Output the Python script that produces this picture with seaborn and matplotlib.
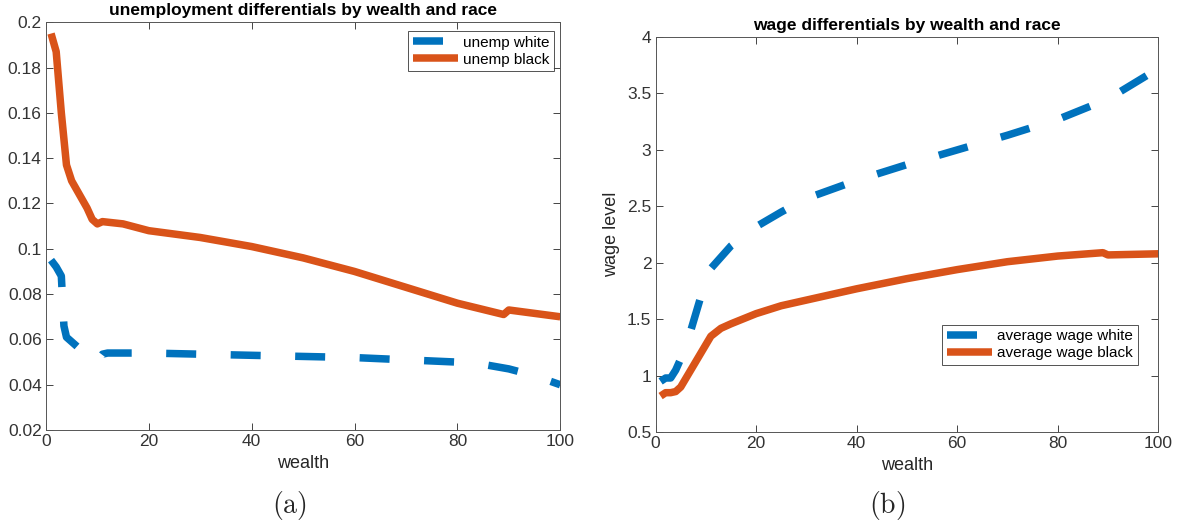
import matplotlib
matplotlib.use("Agg")
import matplotlib.pyplot as plt
import matplotlib.ticker as mticker
import seaborn as sns
import pandas as pd

# wealth grid points and model outputs
wealth_u_black = [1, 2, 3, 4, 5, 6, 7, 8, 9, 10, 11, 15, 20, 30, 40, 50, 60, 70, 80, 89, 90, 100]
unemp_black = [0.195, 0.187, 0.160, 0.137, 0.130, 0.126, 0.122, 0.118, 0.113, 0.111, 0.112, 0.111,
               0.108, 0.105, 0.101, 0.096, 0.090, 0.083, 0.076, 0.071, 0.073, 0.070]

wealth_u_white = [1, 2, 3, 3.5, 4, 5, 7, 10, 10.5, 11, 12, 20, 40, 60, 80, 85, 90, 95, 100]
unemp_white = [0.095, 0.092, 0.088, 0.066, 0.061, 0.059, 0.055, 0.050, 0.052, 0.0535, 0.054, 0.054,
               0.053, 0.052, 0.050, 0.049, 0.047, 0.044, 0.040]

wealth_w = [1, 2, 3, 4, 5, 7, 8, 9, 10, 11, 13, 15, 20, 25, 30, 40, 50, 60, 70, 80, 90, 100]
wage_white = [0.95, 0.98, 0.98, 1.05, 1.15, 1.40, 1.55, 1.70, 1.85, 1.95, 2.05, 2.15,
              2.32, 2.45, 2.57, 2.73, 2.87, 3.00, 3.13, 3.27, 3.45, 3.72]

wealth_wb = [1, 2, 3, 4, 5, 7, 9, 11, 13, 15, 20, 25, 30, 40, 50, 60, 70, 80, 89, 90, 100]
wage_black = [0.82, 0.85, 0.85, 0.86, 0.90, 1.05, 1.20, 1.35, 1.42, 1.46, 1.55, 1.62,
              1.67, 1.77, 1.86, 1.94, 2.01, 2.06, 2.09, 2.07, 2.08]

x_ticks = [0, 20, 40, 60, 80, 100]
u_ticks = [0.02, 0.04, 0.06, 0.08, 0.1, 0.12, 0.14, 0.16, 0.18, 0.2]
w_ticks = [0.5, 1, 1.5, 2, 2.5, 3, 3.5, 4]

BLUE = "#0072BD"
ORANGE = "#D95319"
INK = "#262626"

sns.set_theme(style="white")
plt.rcParams["font.family"] = ["Liberation Sans", "DejaVu Sans"]
plt.rcParams["mathtext.fontset"] = "cm"

fig = plt.figure(figsize=(11.77, 5.29), dpi=100)
ax1 = fig.add_axes([0.039, 0.187, 0.437, 0.771])
ax2 = fig.add_axes([0.557, 0.183, 0.427, 0.747])

LW = 5.4
DASH = [4, 4.6]


def style_axes(ax, yticks, ylim):
    ax.set_xlim(0, 100)
    ax.set_ylim(*ylim)
    ax.set_xticks(x_ticks)
    ax.set_yticks(yticks)
    ax.yaxis.set_major_formatter(mticker.FormatStrFormatter("%g"))
    ax.tick_params(direction="in", length=5, width=0.6, colors=INK, labelsize=12.5,
                   top=True, right=True, bottom=True, left=True, pad=3)
    for lab in ax.get_xticklabels() + ax.get_yticklabels():
        lab.set_color("#333333")
    for sp in ax.spines.values():
        sp.set_color("#555555")
        sp.set_linewidth(0.7)
    ax.set_xlabel("wealth", fontsize=13, color=INK, labelpad=4)


def style_legend(leg):
    leg.get_frame().set_edgecolor(INK)
    leg.get_frame().set_linewidth(0.7)
    for t in leg.get_texts():
        t.set_color("black")


# panel (a): unemployment
df_uw = pd.DataFrame({"wealth": wealth_u_white, "value": unemp_white})
df_ub = pd.DataFrame({"wealth": wealth_u_black, "value": unemp_black})
sns.lineplot(data=df_uw, x="wealth", y="value", ax=ax1, color=BLUE, lw=LW,
             label="unemp white", solid_capstyle="butt", dash_capstyle="butt")
ax1.lines[-1].set_dashes(DASH)
sns.lineplot(data=df_ub, x="wealth", y="value", ax=ax1, color=ORANGE, lw=LW,
             label="unemp black", solid_capstyle="butt", solid_joinstyle="round")
style_axes(ax1, u_ticks, (0.02, 0.2))
ax1.set_ylabel("")
ax1.set_title("unemployment differentials by wealth and race", fontsize=12.5,
              fontweight="bold", color="black", pad=5)
leg1 = ax1.legend(loc="upper right", bbox_to_anchor=(0.988, 0.978), fontsize=11,
                  frameon=True, fancybox=False, handlelength=3.0, handletextpad=0.3,
                  borderpad=0.3, labelspacing=0.2, borderaxespad=0)
style_legend(leg1)

# panel (b): wages
df_ww = pd.DataFrame({"wealth": wealth_w, "value": wage_white})
df_wb = pd.DataFrame({"wealth": wealth_wb, "value": wage_black})
sns.lineplot(data=df_ww, x="wealth", y="value", ax=ax2, color=BLUE, lw=LW,
             label="average wage white", solid_capstyle="butt", dash_capstyle="butt")
ax2.lines[-1].set_dashes(DASH)
sns.lineplot(data=df_wb, x="wealth", y="value", ax=ax2, color=ORANGE, lw=LW,
             label="average wage black", solid_capstyle="butt", solid_joinstyle="round")
style_axes(ax2, w_ticks, (0.5, 4))
ax2.set_ylabel("wage level", fontsize=13, color=INK, labelpad=5)
ax2.set_title("wage differentials by wealth and race", fontsize=12.5,
              fontweight="bold", color="black", pad=5)
leg2 = ax2.legend(loc="upper left", bbox_to_anchor=(0.57, 0.272), fontsize=11,
                  frameon=True, fancybox=False, handlelength=3.0, handletextpad=0.3,
                  borderpad=0.3, labelspacing=0.2, borderaxespad=0)
style_legend(leg2)

fig.text(0.246, 0.045, r"$\mathrm{(a)}$", ha="center", va="center", fontsize=20)
fig.text(0.754, 0.045, r"$\mathrm{(b)}$", ha="center", va="center", fontsize=20)

fig.savefig("out.png", dpi=100)
